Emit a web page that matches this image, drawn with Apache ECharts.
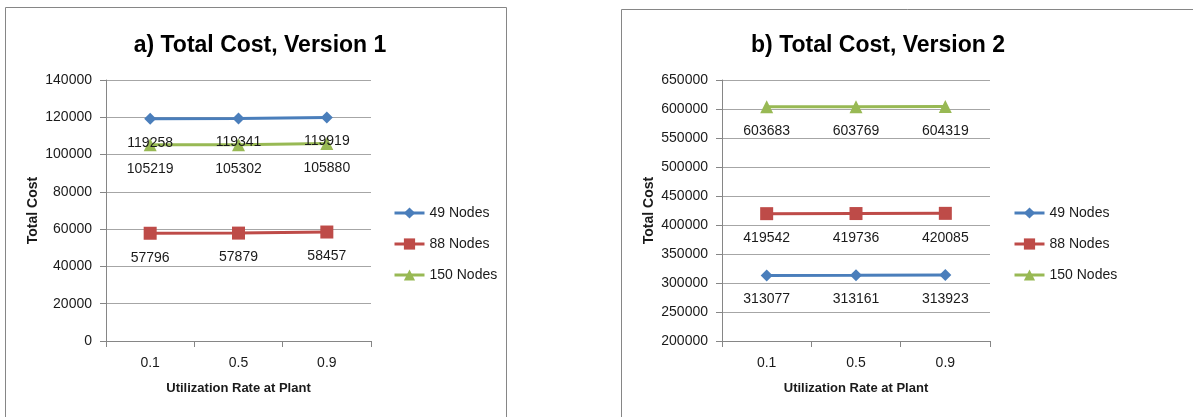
<!DOCTYPE html>
<html>
<head>
<meta charset="utf-8">
<script src="https://cdn.jsdelivr.net/npm/echarts@6/dist/echarts.min.js"></script>
<style>
  html, body { margin: 0; padding: 0; background: #fff; }
  #chart { width: 1193px; height: 417px; }
</style>
</head>
<body>
<div id="chart"></div>
<script>
// Utilization rate at the plant (x axis categories)
const categories = ['0.1', '0.5', '0.9'];
const seriesNames = ['49 Nodes', '88 Nodes', '150 Nodes'];

// Version 1 total cost
const v1Nodes49 = [119258, 119341, 119919];
const v1Nodes88 = [57796, 57879, 58457];
const v1Nodes150 = [105219, 105302, 105880];

// Version 2 total cost
const v2Nodes49 = [313077, 313161, 313923];
const v2Nodes88 = [419542, 419736, 420085];
const v2Nodes150 = [603683, 603769, 604319];

const titles = ['a) Total Cost, Version 1', 'b) Total Cost, Version 2'];
const yAxisMin = [0, 200000];
const yAxisMax = [140000, 650000];
const yAxisStep = [20000, 50000];

const FONT = 'Liberation Sans';
const TEXT = '#1a1a1a';
const colors = ['#4A7EBB', '#BE4B48', '#98B954'];
const symbols = ['diamond', 'rect', 'triangle'];
const symbolSizes = [12, 13, 13];

const chart = echarts.init(document.getElementById('chart'), null, { renderer: 'canvas' });

const grids = [
  { left: 106, top: 80, width: 265, height: 261 },
  { left: 722, top: 80, width: 268, height: 261 }
];

function makeSeries(gridIndex, data) {
  return data.map((values, i) => ({
    name: seriesNames[i],
    type: 'line',
    xAxisIndex: gridIndex,
    yAxisIndex: gridIndex,
    data: values,
    color: colors[i],
    symbol: symbols[i],
    symbolSize: symbolSizes[i],
    lineStyle: { width: 3, color: colors[i] },
    itemStyle: { color: colors[i] },
    label: {
      show: true,
      position: 'bottom',
      distance: 11,
      fontFamily: FONT,
      fontSize: 14,
      color: TEXT
    },
    emphasis: { disabled: true },
    animation: false,
    z: i === 2 ? 1 : 2
  }));
}

const xAxes = grids.map((g, i) => ({
  type: 'category',
  gridIndex: i,
  data: categories,
  boundaryGap: true,
  name: 'Utilization Rate at Plant',
  nameLocation: 'middle',
  nameGap: 41,
  nameTextStyle: { fontFamily: FONT, fontSize: 13, fontWeight: 'bold', color: TEXT },
  axisLine: { lineStyle: { color: '#868686', width: 1 } },
  axisTick: { show: true, length: 6, alignWithLabel: false, lineStyle: { color: '#868686' } },
  axisLabel: { margin: 15, fontFamily: FONT, fontSize: 14, color: TEXT },
  splitLine: { show: false }
}));

const yAxes = grids.map((g, i) => ({
  type: 'value',
  gridIndex: i,
  min: yAxisMin[i],
  max: yAxisMax[i],
  interval: yAxisStep[i],
  name: 'Total Cost',
  nameLocation: 'middle',
  nameGap: 66,
  nameTextStyle: { fontFamily: FONT, fontSize: 14, fontWeight: 'bold', color: TEXT },
  axisLine: { show: true, lineStyle: { color: '#868686', width: 1 } },
  axisTick: { show: true, length: 6, lineStyle: { color: '#868686' } },
  axisLabel: { margin: 14, fontFamily: FONT, fontSize: 14, color: TEXT,
    formatter: (v) => String(v) },
  splitLine: { show: true, lineStyle: { color: '#a6a6a6', width: 1 } }
}));

const legendBase = {
  orient: 'vertical', top: 201, itemWidth: 30, itemHeight: 14, itemGap: 17,
  data: seriesNames, selectedMode: false,
  lineStyle: { width: 3 },
  textStyle: { fontFamily: FONT, fontSize: 14, color: TEXT }
};

chart.setOption({
  backgroundColor: '#fff',
  animation: false,
  title: [
    { text: titles[0], left: 255, top: 29, textAlign: 'center',
      textStyle: { fontFamily: FONT, fontSize: 23, fontWeight: 'bold', color: '#000' } },
    { text: titles[1], left: 873, top: 29, textAlign: 'center',
      textStyle: { fontFamily: FONT, fontSize: 23, fontWeight: 'bold', color: '#000' } }
  ],
  legend: [
    Object.assign({}, legendBase, { left: 388 }),
    Object.assign({}, legendBase, { left: 1008 })
  ],
  grid: grids,
  xAxis: xAxes,
  yAxis: yAxes,
  series: [
    ...makeSeries(0, [v1Nodes49, v1Nodes88, v1Nodes150]),
    ...makeSeries(1, [v2Nodes49, v2Nodes88, v2Nodes150])
  ],
  graphic: [
    { type: 'rect', shape: { x: 5.5, y: 7.5, width: 501, height: 430 }, silent: true,
      style: { fill: 'none', stroke: '#868686', lineWidth: 1 }, z: -1 },
    { type: 'rect', shape: { x: 621.5, y: 9.5, width: 600, height: 430 }, silent: true,
      style: { fill: 'none', stroke: '#868686', lineWidth: 1 }, z: -1 }
  ]
});
</script>
</body>
</html>
